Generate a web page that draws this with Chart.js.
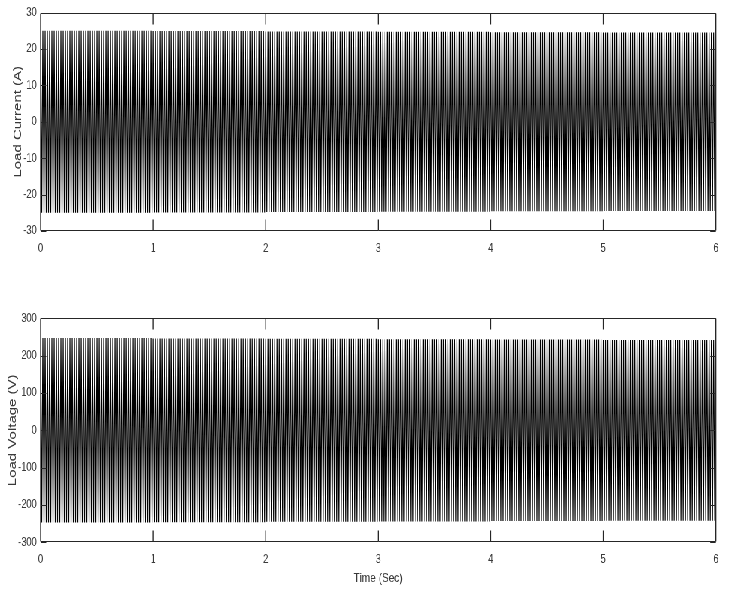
<!DOCTYPE html>
<html>
<head>
<meta charset="utf-8">
<script src="https://cdn.jsdelivr.net/npm/chart.js"></script>
<style>
html, body { margin: 0; padding: 0; background: #fff; }
/* the picture is horizontally squeezed (narrow text), so draw wide and squeeze */
#wrap { position: absolute; left: 0; top: 0; width: 972px; height: 593px; transform: scaleX(0.75); transform-origin: 0 0; }
#c1 { position: absolute; left: 0; top: 0; }
#c2 { position: absolute; left: 0; top: 290px; }
</style>
</head>
<body>
<div id="wrap">
  <canvas id="c1" width="972" height="262"></canvas>
  <canvas id="c2" width="972" height="303"></canvas>
</div>
<script>
// peak amplitude at each whole second
var seconds = [0, 1, 2, 3, 4, 5, 6];
var currentPeaks = [25.0, 24.9, 24.8, 24.7, 24.6, 24.5, 24.4];
var voltagePeaks = [247, 246, 245, 244, 243, 242, 241];
var halfCyclesPerSec = 100; // 50 Hz supply, one peak per half cycle

var timeTicks = [0, 1, 2, 3, 4, 5, 6];
var currentTicks = [-30, -20, -10, 0, 10, 20, 30];
var voltageTicks = [-300, -200, -100, 0, 100, 200, 300];

var SQ = 0.75;
var textColor = '#3a3a3a';
var fontName = "'Liberation Sans', Arial, sans-serif";

// peaks alternate +/-, holding the value read for that second
function peakPoints(peaks) {
    var pts = [];
    for (var i = 0; i < seconds.length - 1; i++) {
        for (var j = 0; j < halfCyclesPerSec; j++) {
            var s = (j % 2 === 0) ? 1 : -1;
            pts.push({ x: seconds[i] + j / halfCyclesPerSec, y: s * peaks[i] });
        }
    }
    pts.push({ x: seconds[seconds.length - 1], y: peaks[peaks.length - 1] });
    return pts;
}

// MATLAB style box with inward ticks
var boxTicks = {
    id: 'boxTicks',
    afterDraw: function (chart) {
        var ctx = chart.ctx, a = chart.chartArea;
        var xs = chart.scales.x, ys = chart.scales.y;
        var top = Math.round(a.top) + 0.5, bot = Math.round(a.bottom) - 0.5;
        ctx.save();
        ctx.strokeStyle = '#262626';
        ctx.lineWidth = 1;
        ctx.beginPath();
        ctx.moveTo(a.left, top); ctx.lineTo(a.right, top);
        ctx.moveTo(a.left, bot); ctx.lineTo(a.right, bot);
        ys.ticks.forEach(function (t) {
            var py = Math.round(ys.getPixelForValue(t.value)) + 0.5;
            ctx.moveTo(a.left, py); ctx.lineTo(a.left + 7.5, py);
            ctx.moveTo(a.right, py); ctx.lineTo(a.right - 7.5, py);
        });
        ctx.stroke();
        ctx.lineWidth = 1 / SQ;
        ctx.beginPath();
        ctx.moveTo(a.left, top); ctx.lineTo(a.left, bot);
        ctx.moveTo(a.right, top); ctx.lineTo(a.right, bot);
        xs.ticks.forEach(function (t) {
            var px = xs.getPixelForValue(t.value);
            ctx.moveTo(px, top); ctx.lineTo(px, top + 11);
            ctx.moveTo(px, bot); ctx.lineTo(px, bot - 11);
        });
        ctx.stroke();
        ctx.restore();
    }
};

function makeChart(id, peaks, yTicks, yTitle, yTitlePad, xTitle, pad, xHeight) {
    var yMin = yTicks[0], yMax = yTicks[yTicks.length - 1];
    return new Chart(document.getElementById(id).getContext('2d'), {
        type: 'line',
        data: {
            datasets: [{
                data: peakPoints(peaks),
                borderColor: '#000',
                borderWidth: 1.2,
                pointRadius: 0,
                tension: 0,
                fill: false
            }]
        },
        options: {
            responsive: false,
            animation: false,
            parsing: false,
            normalized: true,
            events: [],
            layout: { padding: pad },
            plugins: { legend: { display: false }, tooltip: { enabled: false } },
            scales: {
                x: {
                    type: 'linear',
                    min: 0, max: 6,
                    afterBuildTicks: function (s) { s.ticks = timeTicks.map(function (v) { return { value: v }; }); },
                    afterFit: function (s) { s.height = xHeight; },
                    grid: { display: false, drawTicks: false },
                    border: { display: false },
                    ticks: { padding: 10, maxRotation: 0, color: textColor, font: { family: fontName, size: 12.5 } },
                    title: {
                        display: !!xTitle, text: xTitle, color: textColor,
                        font: { family: fontName, size: 13.5 },
                        padding: { top: 0, bottom: 7 }
                    }
                },
                y: {
                    type: 'linear',
                    min: yMin, max: yMax,
                    afterBuildTicks: function (s) { s.ticks = yTicks.map(function (v) { return { value: v }; }); },
                    afterFit: function (s) { s.width = 54; },
                    grid: { display: false, drawTicks: false },
                    border: { display: false },
                    ticks: { padding: 5, color: textColor, font: { family: fontName, size: 12.5 } },
                    title: {
                        display: true, text: yTitle, color: textColor,
                        font: { family: fontName, size: 15 },
                        padding: { top: yTitlePad, bottom: 0 }
                    }
                }
            }
        },
        plugins: [boxTicks]
    });
}

makeChart('c1', currentPeaks, currentTicks, 'Load Current (A)', 14.5, '',
    { top: 9, right: 17.33, bottom: 0, left: 0 }, 31);
makeChart('c2', voltagePeaks, voltageTicks, 'Load Voltage (V)', 7.5, 'Time (Sec)',
    { top: 28.3, right: 17.33, bottom: 0, left: 0 }, 50.7);
</script>
</body>
</html>
